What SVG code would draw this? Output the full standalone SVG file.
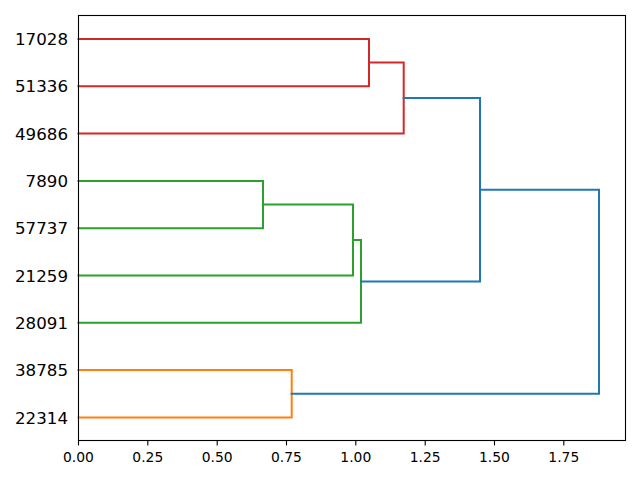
<svg xmlns="http://www.w3.org/2000/svg" width="640" height="480" viewBox="0 0 640 480">
<style>
.l{fill:none;stroke-width:2;stroke-linecap:square;stroke-linejoin:miter}
.r{stroke:#d62728}.g{stroke:#2ca02c}.o{stroke:#ff7f0e}.b{stroke:#1f77b4}
.yl{font-family:"DejaVu Sans",sans-serif;font-size:16.67px;fill:#000;text-anchor:end}
.xl{font-family:"DejaVu Sans",sans-serif;font-size:13.89px;fill:#000;text-anchor:middle}
.tk{stroke:#000;stroke-width:1.1}
</style>
<rect width="640" height="480" fill="#fff"/>
<g id="connectors">
<polyline class="l r" points="78.5,39 369,39 369,86.3 78.5,86.3"/>
<polyline class="l r" points="78.5,133.6 403.7,133.6 403.7,62.6 369,62.6"/>
<polyline class="l g" points="78.5,180.9 263,180.9 263,228.2 78.5,228.2"/>
<polyline class="l g" points="263,204.5 353,204.5 353,275.5 78.5,275.5"/>
<polyline class="l g" points="353,240 361,240 361,322.8 78.5,322.8"/>
<polyline class="l o" points="78.5,370.1 291.7,370.1 291.7,417.4 78.5,417.4"/>
<polyline class="l b" points="403.7,98.1 480,98.1 480,281.4 361,281.4"/>
<polyline class="l b" points="480,189.8 599,189.8 599,393.8 291.7,393.8"/>
</g>
<g id="frame">
<rect x="78.5" y="15.5" width="547" height="425" fill="none" stroke="#000" stroke-width="1.1"/>
</g>
<g id="leaves">
<text class="yl" x="68" y="45.1">17028</text>
<text class="yl" x="68" y="92.4">51336</text>
<text class="yl" x="68" y="139.7">49686</text>
<text class="yl" x="68" y="187">7890</text>
<text class="yl" x="68" y="234.3">57737</text>
<text class="yl" x="68" y="281.6">21259</text>
<text class="yl" x="68" y="328.9">28091</text>
<text class="yl" x="68" y="376.2">38785</text>
<text class="yl" x="68" y="423.5">22314</text>
</g>
<g id="xaxis">
<g class="tk">
<line x1="78.5" y1="440.5" x2="78.5" y2="445.4"/>
<line x1="147.8" y1="440.5" x2="147.8" y2="445.4"/>
<line x1="217.2" y1="440.5" x2="217.2" y2="445.4"/>
<line x1="286.5" y1="440.5" x2="286.5" y2="445.4"/>
<line x1="355.8" y1="440.5" x2="355.8" y2="445.4"/>
<line x1="425.2" y1="440.5" x2="425.2" y2="445.4"/>
<line x1="494.5" y1="440.5" x2="494.5" y2="445.4"/>
<line x1="563.8" y1="440.5" x2="563.8" y2="445.4"/>
</g>
<text class="xl" x="78.5" y="461.5">0.00</text>
<text class="xl" x="147.8" y="461.5">0.25</text>
<text class="xl" x="217.2" y="461.5">0.50</text>
<text class="xl" x="286.5" y="461.5">0.75</text>
<text class="xl" x="355.8" y="461.5">1.00</text>
<text class="xl" x="425.2" y="461.5">1.25</text>
<text class="xl" x="494.5" y="461.5">1.50</text>
<text class="xl" x="563.8" y="461.5">1.75</text>
</g>
</svg>
